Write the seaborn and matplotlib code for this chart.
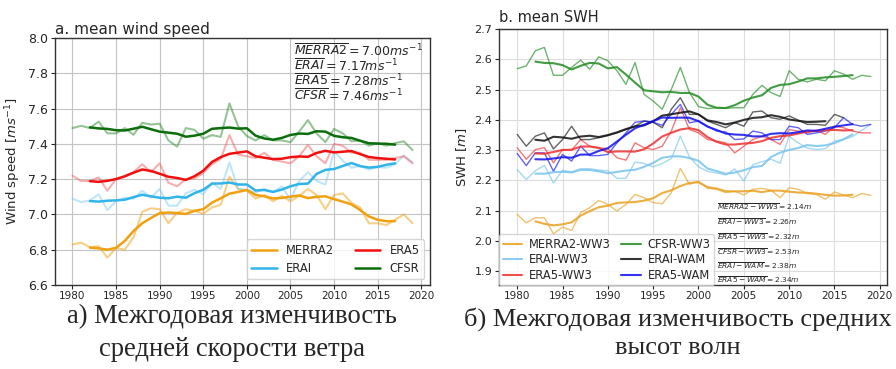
import numpy as np
import pandas as pd
import matplotlib
matplotlib.use("Agg")
import matplotlib.pyplot as plt
import seaborn as sns

years = list(range(1980, 2020))

# ---- panel a: mean wind speed (m/s), annual values 1980-2019 ----
merra2 = [6.83, 6.84, 6.815, 6.82, 6.755, 6.81, 6.80, 6.87, 7.015, 7.035,
          7.03, 6.95, 7.01, 7.03, 7.02, 7.005, 7.04, 7.055, 7.215, 7.145,
          7.135, 7.09, 7.11, 7.075, 7.105, 7.075, 7.105, 7.145, 7.11, 7.03,
          7.11, 7.12, 7.065, 7.04, 6.95, 6.95, 6.94, 6.97, 7.00, 6.95]
erai = [7.09, 7.07, 7.08, 7.115, 7.025, 7.075, 7.095, 7.09, 7.135, 7.095,
        7.145, 7.05, 7.05, 7.12, 7.14, 7.115, 7.18, 7.145, 7.295, 7.145,
        7.14, 7.125, 7.145, 7.125, 7.16, 7.085, 7.19, 7.24, 7.19, 7.17,
        7.36, 7.305, 7.265, 7.275, 7.255, 7.27, 7.265, 7.285, 7.335, 7.295]
era5 = [7.22, 7.19, 7.19, 7.21, 7.135, 7.20, 7.22, 7.24, 7.285, 7.24,
        7.29, 7.18, 7.16, 7.20, 7.205, 7.235, 7.285, 7.315, 7.45, 7.34,
        7.33, 7.32, 7.35, 7.31, 7.30, 7.29, 7.33, 7.395, 7.33, 7.29,
        7.40, 7.39, 7.35, 7.35, 7.31, 7.31, 7.31, 7.32, 7.33, 7.29]
cfsr = [7.49, 7.503, 7.49, 7.527, 7.46, 7.46, 7.49, 7.452, 7.52, 7.51,
        7.515, 7.42, 7.385, 7.49, 7.48, 7.43, 7.45, 7.44, 7.63, 7.50,
        7.445, 7.42, 7.45, 7.42, 7.42, 7.41, 7.47, 7.535, 7.46, 7.41,
        7.485, 7.46, 7.415, 7.42, 7.39, 7.405, 7.39, 7.405, 7.415, 7.365]
wind_names = ["MERRA2", "ERAI", "ERA5", "CFSR"]
wind_means = ["7.00", "7.17", "7.28", "7.46"]

# ---- panel b: mean SWH (m) ----
merra2_ww3 = [2.088, 2.06, 2.077, 2.077, 2.024, 2.046, 2.035, 2.094, 2.11, 2.134,
              2.121, 2.099, 2.121, 2.154, 2.143, 2.127, 2.123, 2.16, 2.24, 2.187,
              2.198, 2.174, 2.171, 2.16, 2.165, 2.152, 2.171, 2.174, 2.168, 2.143,
              2.176, 2.171, 2.157, 2.154, 2.138, 2.162, 2.152, 2.143, 2.157, 2.151]
erai_ww3 = [2.236, 2.203, 2.232, 2.25, 2.192, 2.234, 2.228, 2.239, 2.239, 2.234,
            2.232, 2.207, 2.207, 2.261, 2.256, 2.245, 2.256, 2.272, 2.346, 2.278,
            2.245, 2.23, 2.225, 2.218, 2.238, 2.198, 2.252, 2.262, 2.27, 2.257,
            2.346, 2.324, 2.307, 2.302, 2.305, 2.33, 2.335, 2.345, 2.365, 2.385]
era5_ww3 = [2.308, 2.27, 2.302, 2.308, 2.258, 2.302, 2.30, 2.335, 2.313, 2.308,
            2.305, 2.275, 2.267, 2.324, 2.308, 2.302, 2.313, 2.363, 2.44, 2.368,
            2.357, 2.335, 2.33, 2.324, 2.291, 2.313, 2.335, 2.346, 2.335, 2.319,
            2.368, 2.363, 2.357, 2.366, 2.352, 2.379, 2.374, 2.363, 2.357, 2.357]
cfsr_ww3 = [2.569, 2.578, 2.628, 2.639, 2.547, 2.547, 2.573, 2.597, 2.567, 2.608,
            2.595, 2.562, 2.517, 2.589, 2.484, 2.462, 2.435, 2.501, 2.573, 2.49,
            2.444, 2.437, 2.44, 2.438, 2.44, 2.44, 2.484, 2.514, 2.49, 2.477,
            2.562, 2.534, 2.525, 2.534, 2.529, 2.562, 2.551, 2.534, 2.547, 2.543]
erai_wam = [2.352, 2.313, 2.346, 2.357, 2.304, 2.335, 2.379, 2.335, 2.335, 2.341,
            2.348, 2.357, 2.368, 2.379, 2.396, 2.392, 2.374, 2.435, 2.473, 2.418,
            2.418, 2.396, 2.385, 2.374, 2.391, 2.379, 2.426, 2.429, 2.407, 2.402,
            2.413, 2.399, 2.385, 2.385, 2.382, 2.418, 2.407, None, None, None]
era5_wam = [2.289, 2.249, 2.291, 2.291, 2.23, 2.286, 2.264, 2.313, 2.282, 2.282,
            2.286, 2.324, 2.357, 2.392, 2.396, 2.392, 2.382, 2.418, 2.451, 2.39,
            2.396, 2.379, 2.363, 2.36, 2.335, 2.337, 2.363, 2.357, 2.335, 2.335,
            2.379, 2.374, 2.352, 2.357, 2.363, 2.374, 2.407, 2.385, 2.379, 2.385]
swh_names = ["MERRA2-WW3", "ERAI-WW3", "ERA5-WW3", "CFSR-WW3", "ERAI-WAM", "ERA5-WAM"]
swh_labels = ["MERRA2 - WW3", "ERAI - WW3", "ERA5 - WW3", "CFSR - WW3", "ERAI - WAM", "ERA5 - WAM"]
swh_means = ["2.14", "2.26", "2.32", "2.53", "2.38", "2.34"]

caption_a = "а) Межгодовая изменчивость\nсредней скорости ветра"
caption_b = "б) Межгодовая изменчивость средних\nвысот волн"

sns.set_style("whitegrid", {"axes.edgecolor": "#333333", "grid.color": "#c4c4c4",
                            "xtick.bottom": True, "ytick.left": True})
plt.rcParams["font.family"] = ["DejaVu Sans"]
plt.rcParams["mathtext.fontset"] = "dejavusans"

fig = plt.figure(figsize=(8.96, 3.69), dpi=100)
axa = fig.add_axes([0.0614, 0.2276, 0.4185, 0.669])
axb = fig.add_axes([0.557, 0.2276, 0.433, 0.694])

def smooth(vals):
    return pd.Series(vals, dtype=float).rolling(5, center=True).mean()

# panel a
wind_series = [merra2, erai, era5, cfsr]
wind_colors = ["#f0a010", "#30b4ea", "#f01010", "#0b6e0b"]
wind_raw_colors = ["#f0a010", "#80cdf0", "#f06060", "#2e8b2e"]
for name, vals, c, rc in zip(wind_names, wind_series, wind_colors, wind_raw_colors):
    sns.lineplot(x=years, y=vals, ax=axa, color=rc, alpha=0.5, lw=1.5, label="_nolegend_")
for name, vals, c in zip(wind_names, wind_series, wind_colors):
    sns.lineplot(x=years, y=smooth(vals), ax=axa, color=c, lw=1.8, label=name)
axa.set_xlim(1978.0, 2021.0)
axa.set_ylim(6.6, 8.0)
axa.set_xticks(range(1980, 2021, 5))
axa.set_yticks(np.arange(6.6, 8.01, 0.2))
axa.set_yticklabels([f"{v:.1f}" for v in np.arange(6.6, 8.01, 0.2)], fontsize=9)
axa.set_ylabel("Wind speed [$ms^{-1}$]", fontsize=9.5)
axa.set_title("a. mean wind speed", loc="left", fontsize=11, pad=3)
axa.legend(loc="lower right", ncol=2, fontsize=8.3, frameon=True,
           columnspacing=1.8, handlelength=2.2, borderpad=0.4, labelspacing=0.4)
ya = [0.947, 0.886, 0.825, 0.764]
for n, m, yp in zip(wind_names, wind_means, ya):
    axa.text(0.638, yp, f"$\\overline{{{n}}} = {m}ms^{{-1}}$", transform=axa.transAxes,
             ha="left", va="center", fontsize=9.0, zorder=10)

# panel b
swh_series = [merra2_ww3, erai_ww3, era5_ww3, cfsr_ww3, erai_wam, era5_wam]
swh_colors = ["#eaa020", "#78c4ec", "#ee3030", "#228b22", "#111111", "#1010ee"]
for name, vals, c in zip(swh_names, swh_series, swh_colors):
    sns.lineplot(x=years, y=np.array(vals, dtype=float), ax=axb, color=c, alpha=0.65,
                 lw=1.0, label="_nolegend_")
for name, vals, c in zip(swh_names, swh_series, swh_colors):
    sns.lineplot(x=years, y=smooth(vals), ax=axb, color=c, alpha=0.85, lw=1.5, label=name)
axb.set_xlim(1978.0, 2020.8)
axb.set_ylim(1.855, 2.70)
axb.set_xticks(range(1980, 2021, 5))
axb.set_yticks(np.arange(1.9, 2.71, 0.1))
axb.set_yticklabels([f"{v:.1f}" for v in np.arange(1.9, 2.71, 0.1)], fontsize=8)
axb.set_ylabel("SWH [$m$]", fontsize=9.5)
axb.set_title("b. mean SWH", loc="left", fontsize=10.5, pad=5)
axb.grid(color="#dddddd")
leg = axb.legend(loc="lower left", ncol=2, fontsize=8.3, frameon=True, borderaxespad=0.0,
                 columnspacing=0.9, handlelength=1.7, handletextpad=0.6,
                 borderpad=0.3, labelspacing=0.2)
leg.set_zorder(5)
ypos = [0.305, 0.246, 0.191, 0.129, 0.074, 0.020]
for lab, m, yp in zip(swh_labels, swh_means, ypos):
    axb.text(0.562, yp, f"$\\overline{{{lab}}} = {m}m$", transform=axb.transAxes,
             ha="left", va="center", fontsize=5.4, zorder=10)

for ax in (axa, axb):
    ax.set_xlabel("")
    ax.tick_params(axis="x", labelsize=7.5, length=3, pad=1.5)
    ax.tick_params(axis="y", length=3, pad=2)
    for lbl in ax.get_xticklabels():
        lbl.set_family(["Liberation Sans Narrow", "DejaVu Sans"])
    for s in ax.spines.values():
        s.set_color("#333333")
        s.set_linewidth(1.0)

fig.text(0.259, 0.097, caption_a, ha="center", va="center", fontsize=19.2,
         family=["Liberation Serif", "DejaVu Serif"], linespacing=1.38)
fig.text(0.756, 0.097, caption_b, ha="center", va="center", fontsize=19.0,
         family=["Liberation Serif", "DejaVu Serif"], linespacing=1.38)

fig.savefig("out.png", dpi=100)
